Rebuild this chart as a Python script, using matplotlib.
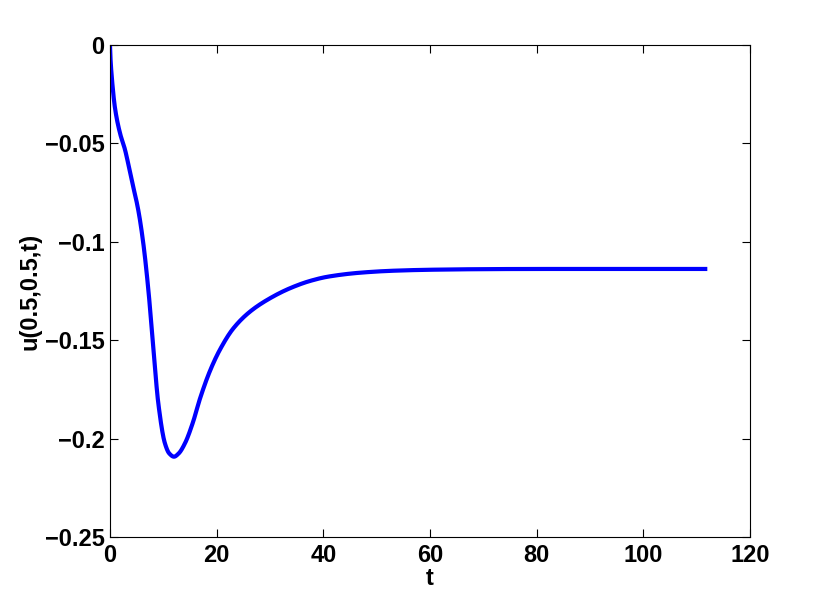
import numpy as np
import matplotlib
matplotlib.use('Agg')
import matplotlib.pyplot as plt

# values
t = [0, 0.1, 0.3, 0.94, 1.9, 2.8, 4.06, 5.3, 6.25, 7.2, 8.1, 9.06, 10.3, 11.1, 12.0,
     12.9, 14.06, 15.5, 16.9, 18.75, 20.6, 23.1, 26.25, 30, 33.75, 37.5, 40.9, 46.9,
     53.1, 60, 70, 80, 90, 100, 112]
u = [0, -0.007, -0.015, -0.032, -0.045, -0.053, -0.0686, -0.0838, -0.1008, -0.1245,
     -0.153, -0.182, -0.2024, -0.2075, -0.2092, -0.2075, -0.2024, -0.1922, -0.1795,
     -0.1656, -0.1549, -0.1441, -0.1355, -0.1287, -0.1236, -0.1199, -0.1177, -0.1157,
     -0.1147, -0.1142, -0.1139, -0.1138, -0.1138, -0.1138, -0.1138]

xticks = [0, 20, 40, 60, 80, 100, 120]
yticks = [0, -0.05, -0.1, -0.15, -0.2, -0.25]
ylabels = ['0', '\u22120.05', '\u22120.1', '\u22120.15', '\u22120.2', '\u22120.25']


def pchip(x, y, xn):
    # monotone cubic (Fritsch-Carlson) so the read points join smoothly
    x = np.asarray(x, float)
    y = np.asarray(y, float)
    h = np.diff(x)
    d = np.diff(y) / h
    m = np.zeros_like(y)
    for i in range(1, len(x) - 1):
        if d[i - 1] * d[i] > 0:
            w1 = 2 * h[i] + h[i - 1]
            w2 = h[i] + 2 * h[i - 1]
            m[i] = (w1 + w2) / (w1 / d[i - 1] + w2 / d[i])
    m[0] = d[0]
    m[-1] = d[-1]
    idx = np.clip(np.searchsorted(x, xn) - 1, 0, len(x) - 2)
    hh = h[idx]
    s = (xn - x[idx]) / hh
    h00 = 2 * s**3 - 3 * s**2 + 1
    h10 = s**3 - 2 * s**2 + s
    h01 = -2 * s**3 + 3 * s**2
    h11 = s**3 - s**2
    return h00 * y[idx] + h10 * hh * m[idx] + h01 * y[idx + 1] + h11 * hh * m[idx + 1]


plt.rcParams['font.family'] = ['Liberation Sans', 'DejaVu Sans']
plt.rcParams['font.weight'] = 'bold'

fig = plt.figure(figsize=(8.3, 6.06), dpi=100)
ax = fig.add_axes([0.1325, 0.1139, 0.7711, 0.8118])

tt = np.linspace(t[0], t[-1], 3000)
ax.plot(tt, pchip(t, u, tt), color='#0000ff', lw=3, solid_capstyle='butt')

ax.set_xlim(0, 120)
ax.set_ylim(-0.25, 0)
ax.set_xticks(xticks)
ax.set_yticks(yticks)
ax.set_yticklabels(ylabels)
ax.tick_params(direction='in', top=True, right=True, labelsize=17, length=6, width=0.8)
ax.tick_params(axis='x', pad=5)
ax.tick_params(axis='y', pad=4)
for s in ax.spines.values():
    s.set_linewidth(0.8)
ax.set_xlabel('t', fontsize=17, fontweight='bold', labelpad=0)
ax.set_ylabel('u(0.5,0.5,t)', fontsize=17, fontweight='bold', labelpad=2)

fig.savefig('out.png', dpi=100)
